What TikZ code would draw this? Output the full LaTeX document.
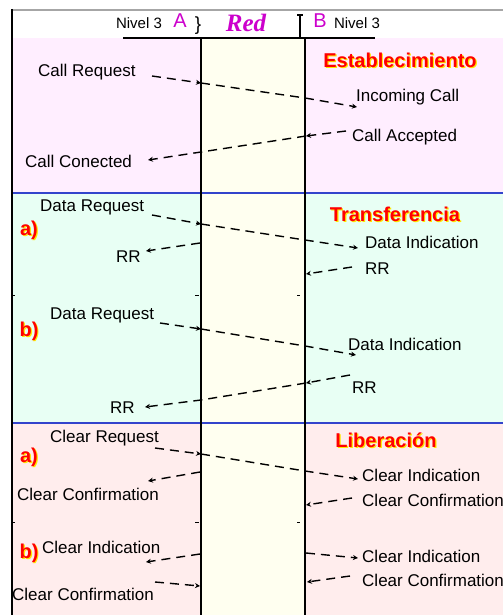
\documentclass[tikz,border=0pt]{standalone}
\usepackage{fontspec}
\setmainfont{Liberation Sans}
\newfontfamily\redfont{Liberation Serif}
\usetikzlibrary{arrows.meta}
\definecolor{secA}{HTML}{FFEEFF}
\definecolor{secB}{HTML}{E8FFF4}
\definecolor{secC}{HTML}{FFEDED}
\definecolor{midcol}{HTML}{FFFFF0}
\definecolor{sepblue}{HTML}{3344CC}
\definecolor{mag}{HTML}{CC00CC}
\definecolor{shadowyel}{HTML}{FFE800}
\definecolor{titred}{HTML}{FF0000}
\begin{document}
\begin{tikzpicture}[x=1pt,y=-1pt,
  lbl/.style={inner sep=0pt, anchor=west, font=\fontsize{17}{19}\selectfont},
  hdr/.style={inner sep=0pt, font=\fontsize{15}{17}\selectfont},
  ttl/.style={inner sep=0pt, font=\bfseries\fontsize{20}{22}\selectfont, text=titred},
  ttlsh/.style={inner sep=0pt, font=\bfseries\fontsize{20}{22}\selectfont, text=shadowyel},
  msg/.style={draw=black, line width=1.4pt, dash pattern=on 9pt off 6pt, -{Stealth[length=5pt,width=5pt]}},
  life/.style={draw=black, line width=1.5pt},
  sepline/.style={draw=sepblue, line width=2pt},
  tickmark/.style={draw=black, line width=0.8pt}
]
\useasboundingbox (0,0) rectangle (503,615);
\fill[white] (0,0) rectangle (503,615);
% section backgrounds
\fill[secA] (12,38) rectangle (503,192);
\fill[secB] (12,192) rectangle (503,423);
\fill[secC] (12,423) rectangle (503,615);
\fill[midcol] (201,38) rectangle (305,615);
\draw[sepline] (12,192.5) -- (503,192.5);
\draw[sepline] (12,423) -- (503,423);
% frame
\draw[gray!70, line width=2pt] (12,10) -- (503,10);
\draw[black, line width=1.5pt] (12,9) -- (12,615);
% header
\node[hdr] (nivA) at (139,23) {Nivel 3};
\node[inner sep=0pt, text=mag, font=\fontsize{20}{22}\selectfont] (labA) at (180,21) {A};
\node[inner sep=0pt, font=\fontsize{19}{21}\selectfont] (brA) at (198,26) {\}};
\node[inner sep=0pt, text=mag, font=\redfont\bfseries\itshape\fontsize{25}{27}\selectfont] (red) at (246,23) {Red};
\node[inner sep=0pt, text=mag, font=\fontsize{20}{22}\selectfont] (labB) at (320,21) {B};
\node[hdr] (nivB) at (357,23) {Nivel 3};
\draw[black, line width=1.3pt] (297,15) -- (303,15) (300,15) -- (300,38) (297,38) -- (303,38);
\draw[black, line width=2pt] (123,38) -- (375,38);
% lifelines
\draw[life] (201,38) -- (201,615);
\draw[life] (305,38) -- (305,615);
% ticks
\foreach \yy in {295,522}{
  \draw[tickmark] (12,\yy) -- (15,\yy);
  \draw[tickmark] (195,\yy) -- (199,\yy);
  \draw[tickmark] (297,\yy) -- (300,\yy);
}
% titles with shadow
\node[ttlsh] (estS) at (401.2,61.2) {Establecimiento};
\node[ttl] (est) at (400,60) {Establecimiento};
\node[ttlsh] (traS) at (396.2,215.2) {Transferencia};
\node[ttl] (tra) at (395,214) {Transferencia};
\node[ttlsh] (libS) at (387.2,441.2) {Liberación};
\node[ttl] (lib) at (386,440) {Liberación};
\node[ttlsh] (aaS) at (30.2,231.2) {a)};
\node[ttl] (aa) at (29,230) {a)};
\node[ttlsh] (bbS) at (30.2,332.2) {b)};
\node[ttl] (bb) at (29,331) {b)};
\node[ttlsh] (ccS) at (30.2,458.2) {a)};
\node[ttl] (cc) at (29,457) {a)};
\node[ttlsh] (ddS) at (30.2,554.2) {b)};
\node[ttl] (dd) at (29,553) {b)};
% labels
\node[lbl] (cr) at (38,72) {Call Request};
\node[lbl] (ic) at (356,97) {Incoming Call};
\node[lbl] (ca) at (352,137) {Call Accepted};
\node[lbl] (ccn) at (25,161) {Call Conected};
\node[lbl] (dra) at (40,207) {Data Request};
\node[lbl] (dia) at (365,242) {Data Indication};
\node[lbl] (rrla) at (116,257) {RR};
\node[lbl] (rrra) at (365,269) {RR};
\node[lbl] (drb) at (50,315) {Data Request};
\node[lbl] (dib) at (348,344) {Data Indication};
\node[lbl] (rrrb) at (352,388) {RR};
\node[lbl] (rrlb) at (110,408) {RR};
\node[lbl] (clr) at (50,438) {Clear Request};
\node[lbl] (cia) at (362,475) {Clear Indication};
\node[lbl] (ccla) at (17,494) {Clear Confirmation};
\node[lbl] (ccra) at (362,500) {Clear Confirmation};
\node[lbl] (cilb) at (42,547) {Clear Indication};
\node[lbl] (cirb) at (362,556) {Clear Indication};
\node[lbl] (ccrb) at (362,580) {Clear Confirmation};
\node[lbl] (cclb) at (12,594) {Clear Confirmation};
% connector points
\coordinate (p1) at (152,76);  \coordinate (a1) at (201,83);  \coordinate (b1) at (305,98);  \coordinate (e1) at (357,107);
\coordinate (p2) at (346,131); \coordinate (b2) at (306,136); \coordinate (a2) at (201,152); \coordinate (e2) at (148,160);
\coordinate (p3) at (152,215); \coordinate (a3) at (201,224); \coordinate (b3) at (305,240); \coordinate (e3) at (358,248);
\coordinate (a4) at (200,243); \coordinate (e4) at (146,251);
\coordinate (p5) at (352,267); \coordinate (b5) at (306,274);
\coordinate (p6) at (160,323); \coordinate (a6) at (201,329); \coordinate (b6) at (305,346); \coordinate (e6) at (356,355);
\coordinate (p7) at (350,375); \coordinate (b7) at (306,383); \coordinate (a7) at (201,400); \coordinate (e7) at (145,407);
\coordinate (p8) at (155,448); \coordinate (a8) at (201,454); \coordinate (b8) at (305,471); \coordinate (e8) at (358,479);
\coordinate (a9) at (200,472); \coordinate (e9) at (148,481);
\coordinate (p10) at (352,498); \coordinate (b10) at (306,505);
\coordinate (a11) at (200,554); \coordinate (e11) at (146,562);
\coordinate (b12) at (306,553); \coordinate (e12) at (358,558);
\coordinate (p13) at (350,576); \coordinate (b13) at (307,582);
\coordinate (p14) at (155,582); \coordinate (a14) at (200,586);
% connectors
\draw[msg] (p1) -- (a1);
\draw[msg] (a1) -- (b1) -- (e1);
\draw[msg] (p2) -- (b2);
\draw[msg] (b2) -- (a2) -- (e2);
\draw[msg] (p3) -- (a3);
\draw[msg] (a3) -- (b3) -- (e3);
\draw[msg] (a4) -- (e4);
\draw[msg] (p5) -- (b5);
\draw[msg] (p6) -- (a6);
\draw[msg] (a6) -- (b6) -- (e6);
\draw[msg] (p7) -- (b7);
\draw[msg] (b7) -- (a7) -- (e7);
\draw[msg] (p8) -- (a8);
\draw[msg] (a8) -- (b8) -- (e8);
\draw[msg] (a9) -- (e9);
\draw[msg] (p10) -- (b10);
\draw[msg] (a11) -- (e11);
\draw[msg] (b12) -- (e12);
\draw[msg] (p13) -- (b13);
\draw[msg] (p14) -- (a14);
\end{tikzpicture}
\end{document}
